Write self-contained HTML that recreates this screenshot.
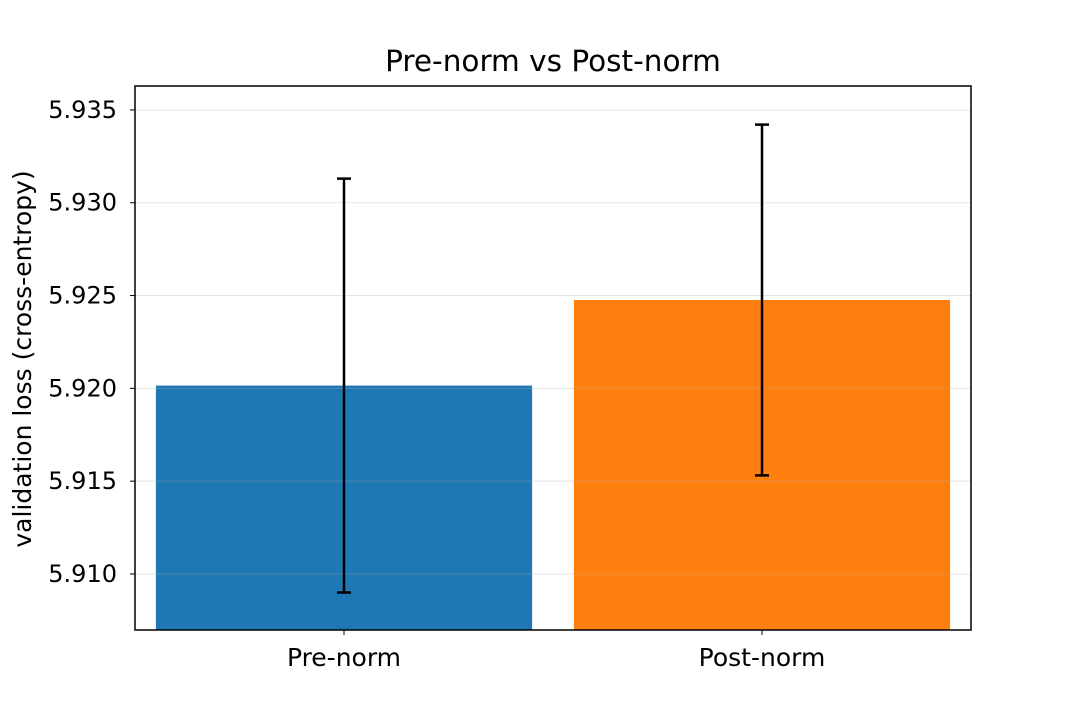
<!DOCTYPE html>
<html><head><meta charset="utf-8"><style>body{margin:0;background:#fff}svg{display:block;font-family:"DejaVu Sans","Liberation Sans",sans-serif}</style></head>
<body>
<svg id="chart" width="1080" height="720" xmlns="http://www.w3.org/2000/svg"></svg>
<script>
const categories = ["Pre-norm", "Post-norm"];
const means = [5.92015, 5.92476];
const errors = [0.01115, 0.00945];
const colors = ["#1f77b4", "#ff7f0e"];
const yTicks = [5.910, 5.915, 5.920, 5.925, 5.930, 5.935];

const svg = document.getElementById('chart');
const NS = 'http://www.w3.org/2000/svg';
const L = 135, R = 971, T = 86, B = 630;
const yMin = 5.90698, yMax = 5.93629;
function y(v){ return B - (v - yMin) / (yMax - yMin) * (B - T); }
const slot = (R - L) / categories.length;
function xc(i){ return L + slot * (i + 0.5); }
const barW = slot * 0.9;
function mk(tag, attrs, parent){ const e = document.createElementNS(NS, tag); for (const k in attrs) e.setAttribute(k, attrs[k]); (parent||svg).appendChild(e); return e; }

categories.forEach((c, i) => {
  const r = mk('rect', {x: xc(i) - barW/2, y: y(means[i]), width: barW, height: B - y(means[i]), fill: colors[i]});
  
  
});
yTicks.forEach(t => {
  const g = mk('line', {x1: L, x2: R, y1: y(t), y2: y(t), stroke: '#b0b0b0', 'stroke-width': 1, 'stroke-opacity': 0.35});
  
  
  const tk = mk('line', {x1: L - 5, x2: L, y1: y(t), y2: y(t), stroke: '#000', 'stroke-width': 1});
  
  
  const tx = mk('text', {x: L - 18, y: y(t) + 8, 'text-anchor': 'end', 'font-size': 24, fill: '#000'});
  tx.textContent = t.toFixed(3);
  
  
});
categories.forEach((c, i) => {
  const x = xc(i), t1 = y(means[i] + errors[i]), b1 = y(means[i] - errors[i]);
  const g = mk('g', {stroke: '#000', 'stroke-width': 2.5});
  
  
  mk('line', {x1: x, x2: x, y1: t1, y2: b1}, g);
  mk('line', {x1: x - 7, x2: x + 7, y1: t1, y2: t1}, g);
  mk('line', {x1: x - 7, x2: x + 7, y1: b1, y2: b1}, g);
  const tk = mk('line', {x1: x, x2: x, y1: B, y2: B + 5, stroke: '#000', 'stroke-width': 1});
  
  
  const tx = mk('text', {x: x, y: B + 36, 'text-anchor': 'middle', 'font-size': 25, fill: '#000'});
  tx.textContent = c;
  
  
});
const fr = mk('rect', {x: L, y: T, width: R - L, height: B - T, fill: 'none', stroke: '#000', 'stroke-width': 1.5});


const ti = mk('text', {x: (L + R) / 2, y: 71, 'text-anchor': 'middle', 'font-size': 29.5, fill: '#000'});
ti.textContent = 'Pre-norm vs Post-norm';


const yl = mk('text', {x: 0, y: 0, 'text-anchor': 'middle', 'font-size': 25, fill: '#000', transform: 'translate(31,' + ((T + B) / 2 + 1) + ') rotate(-90)'});
yl.textContent = 'validation loss (cross-entropy)';


</script>
</body></html>
